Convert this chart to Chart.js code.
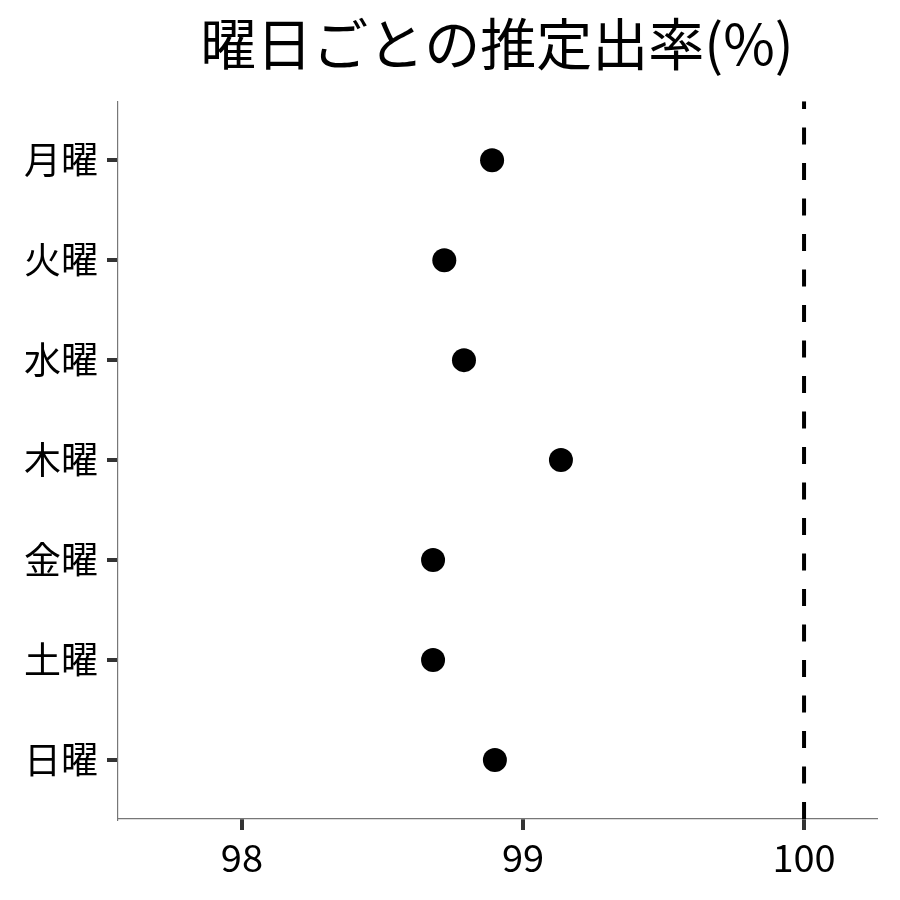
<!DOCTYPE html>
<html>
<head>
<meta charset="utf-8">
<script src="https://cdn.jsdelivr.net/npm/chart.js@4"></script>
<style>
  html, body { margin: 0; padding: 0; background: #fff; }
  #wrap { width: 900px; height: 900px; }
</style>
</head>
<body>
<div id="wrap"><canvas id="canvas" width="900" height="900"></canvas></div>
<script>
var FONT = '"Noto Sans CJK JP", "Noto Sans", sans-serif';

// data
var days = ['月曜', '火曜', '水曜', '木曜', '金曜', '土曜', '日曜'];
var rates = [98.89, 98.72, 98.79, 99.135, 98.68, 98.68, 98.90];
var refValue = 100;
var xTicks = [98, 99, 100];

var points = days.map(function (d, i) {
    return { x: rates[i], y: i };
});

var yMin = -0.59;
var yMax = days.length - 1 + 0.59;

var chart = new Chart(document.getElementById('canvas'), {
    type: 'scatter',
    data: {
        datasets: [{
                label: '推定出率',
                data: points,
                backgroundColor: '#000',
                borderWidth: 0,
                pointRadius: 12,
                pointHoverRadius: 12,
            }, {
                label: 'ref',
                type: 'line',
                data: [{ x: refValue, y: yMax }, { x: refValue, y: yMin }],
                borderColor: '#000',
                borderWidth: 4,
                borderDash: [17, 18.5],
                pointRadius: 0,
                fill: false,
            }]
    },
    options: {
        responsive: false,
        animation: false,
        devicePixelRatio: 1,
        layout: {
            padding: { left: 0, right: 24, top: 0, bottom: 0 }
        },
        plugins: {
            legend: { display: false },
            tooltip: { enabled: false },
            title: {
                display: true,
                text: '曜日ごとの推定出率(%)',
                fullSize: false,
                color: '#000',
                font: { family: FONT, size: 56, weight: 'normal', lineHeight: 1.2 },
                padding: { top: 10, bottom: 24 },
            },
        },
        scales: {
            x: {
                type: 'linear',
                min: 97.559,
                max: 100.256,
                afterBuildTicks: function (scale) {
                    scale.ticks = xTicks.map(function (v) { return { value: v }; });
                },
                afterFit: function (scale) {
                    scale.height = 81;
                },
                grid: {
                    drawOnChartArea: false,
                    drawTicks: true,
                    tickLength: 11,
                    color: '#333',
                    lineWidth: 4,
                    tickColor: '#333',
                    tickWidth: 4,
                },
                border: { color: '#777', width: 1.2 },
                ticks: {
                    color: '#000',
                    padding: 5,
                    maxRotation: 0,
                    font: { family: FONT, size: 38 },
                },
            },
            y: {
                type: 'linear',
                reverse: true,
                min: yMin,
                max: yMax,
                afterBuildTicks: function (scale) {
                    scale.ticks = days.map(function (d, i) { return { value: i }; });
                },
                afterFit: function (scale) {
                    scale.width = 118;
                },
                grid: {
                    drawOnChartArea: false,
                    drawTicks: true,
                    tickLength: 11,
                    color: '#333',
                    lineWidth: 4,
                    tickColor: '#333',
                    tickWidth: 4,
                },
                border: { color: '#777', width: 1.2 },
                ticks: {
                    color: '#000',
                    padding: 9,
                    font: { family: FONT, size: 37 },
                    callback: function (value) {
                        return days[value];
                    },
                },
            },
        },
    }
});
</script>
</body>
</html>
